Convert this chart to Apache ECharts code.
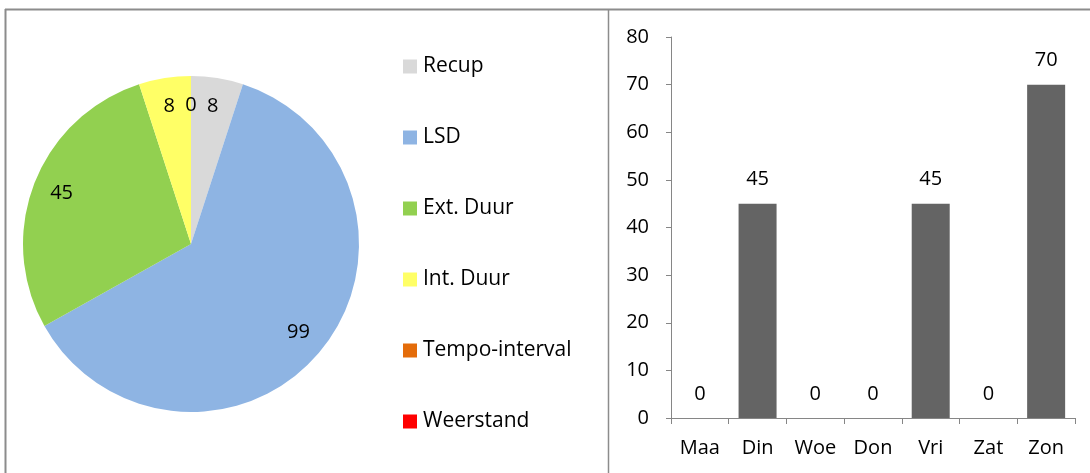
<!DOCTYPE html>
<html>
<head>
<meta charset="utf-8">
<script src="https://cdn.jsdelivr.net/npm/echarts@6/dist/echarts.min.js"></script>
<style>
  html, body { margin: 0; padding: 0; background: #fff; }
  #chart { width: 1090px; height: 473px; }
</style>
</head>
<body>
<div id="chart"></div>
<script>
// pie data
var zoneNames = ['Recup', 'LSD', 'Ext. Duur', 'Int. Duur', 'Tempo-interval', 'Weerstand'];
var zoneValues = [8, 99, 45, 8, 0, 0];
var zoneColors = ['#d9d9d9', '#8eb4e3', '#92d050', '#ffff66', '#e46c0a', '#ff0000'];

// bar data
var days = ['Maa', 'Din', 'Woe', 'Don', 'Vri', 'Zat', 'Zon'];
var dayValues = [0, 45, 0, 0, 45, 0, 70];

var FONT = 'Open Sans';
var SIZE = 20;
var pieData = zoneNames.map(function (n, i) {
  return { name: n, value: zoneValues[i], itemStyle: { color: zoneColors[i] } };
});

var chart = echarts.init(document.getElementById('chart'));
chart.setOption({
  animation: false,
  textStyle: { fontFamily: FONT },
  // panel frame lines
  graphic: [
    { type: 'line', shape: { x1: 5, y1: 9.5, x2: 1090, y2: 9.5 }, style: { stroke: '#8c8c8c', lineWidth: 2 } },
    { type: 'line', shape: { x1: 5.5, y1: 9, x2: 5.5, y2: 473 }, style: { stroke: '#8c8c8c', lineWidth: 2 } },
    { type: 'line', shape: { x1: 608.5, y1: 9, x2: 608.5, y2: 473 }, style: { stroke: '#8c8c8c', lineWidth: 1.5 } }
  ],
  legend: {
    orient: 'vertical',
    left: 403,
    top: 56,
    padding: 0,
    data: zoneNames,
    icon: 'rect',
    itemWidth: 14,
    itemHeight: 14,
    itemGap: 50,
    textStyle: { fontFamily: FONT, fontSize: SIZE + 1, color: '#000', lineHeight: 20, padding: [0, 0, 0, 1] }
  },
  grid: { left: 671, right: 15, top: 37, bottom: 55 },
  xAxis: {
    type: 'category',
    data: days,
    axisLine: { lineStyle: { color: '#868686', width: 1 } },
    axisTick: { show: true, length: 6, lineStyle: { color: '#868686' } },
    axisLabel: { color: '#000', fontSize: SIZE, margin: 20, fontFamily: FONT }
  },
  yAxis: {
    type: 'value',
    min: 0,
    max: 80,
    interval: 10,
    axisLine: { show: true, lineStyle: { color: '#868686', width: 1 } },
    axisTick: { show: true, length: 5, lineStyle: { color: '#868686' } },
    splitLine: { show: false },
    axisLabel: { color: '#000', fontSize: SIZE, margin: 22, fontFamily: FONT }
  },
  series: [
    {
      type: 'pie',
      center: [191, 244],
      radius: [0, 168],
      startAngle: 90,
      clockwise: true,
      data: pieData,
      label: { show: false },
      labelLine: { show: false },
      emphasis: { disabled: true }
    },
    {
      // transparent ring carrying the value labels
      type: 'pie',
      center: [191, 244],
      radius: [104, 168],
      startAngle: 90,
      clockwise: true,
      silent: true,
      data: zoneNames.map(function (n, i) { return { name: n, value: zoneValues[i] }; }),
      itemStyle: { color: 'rgba(0,0,0,0)' },
      label: {
        show: true,
        position: 'inside',
        formatter: '{c}',
        color: '#000',
        fontSize: SIZE,
        fontFamily: FONT
      },
      labelLine: { show: false },
      emphasis: { disabled: true }
    },
    {
      type: 'bar',
      data: dayValues,
      barWidth: 38,
      itemStyle: { color: '#646464' },
      label: {
        show: true,
        position: 'top',
        distance: 14,
        color: '#000',
        fontSize: SIZE,
        fontFamily: FONT
      }
    }
  ]
});
</script>
</body>
</html>
